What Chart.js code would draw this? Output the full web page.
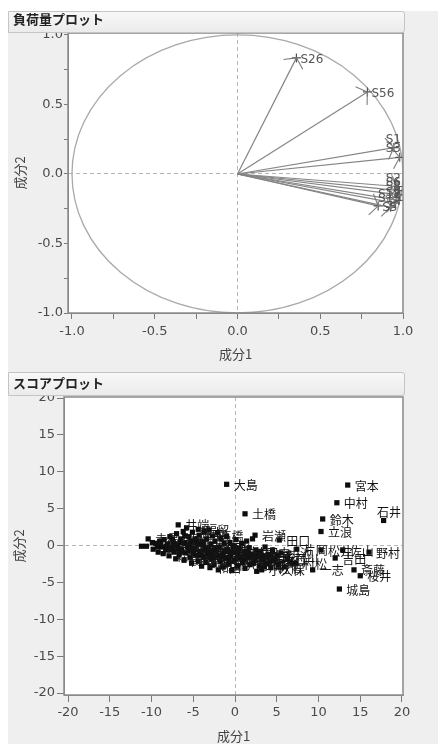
<!DOCTYPE html>
<html>
<head>
<meta charset="utf-8">
<script src="https://cdn.jsdelivr.net/npm/chart.js"></script>
<style>
  html, body { margin: 0; padding: 0; background: #fff; }
  body { width: 438px; height: 744px; position: relative; overflow: hidden; }
  #panel { position: absolute; left: 8px; top: 11px; right: 0; bottom: 0; background: #efefef; }
  .bar {
    position: absolute; left: 8px; width: 397px; box-sizing: border-box;
    border: 1px solid #c4c4c4; border-radius: 0 3px 3px 0;
    background: linear-gradient(#f8f8f8, #ebebeb);
    font: bold 13px "Noto Sans CJK JP"; color: #222; padding-left: 4px; z-index: 2;
  }
  #bar1 { top: 11px; height: 22px; line-height: 14px; }
  #bar2 { top: 372px; height: 24px; line-height: 20px; }
  canvas { position: absolute; left: 0; }
</style>
</head>
<body>
<div id="panel"></div>
<canvas id="c1" width="438" height="370" style="top:0"></canvas>
<canvas id="c2" width="438" height="372" style="top:372px"></canvas>
<div class="bar" id="bar1">負荷量プロット</div>
<div class="bar" id="bar2">スコアプロット</div>
<script>
// 負荷量プロット
const loadNames = ['S26', 'S56', 'S1', 'S3', 'S2', 'S6', 'S8', 'S9', 'S12', 'S15', 'S5'];
const loadX = [0.356, 0.785, 0.945, 0.98, 0.97, 0.975, 0.98, 0.975, 0.955, 0.925, 0.85];
const loadY = [0.835, 0.59, 0.19, 0.12, -0.09, -0.12, -0.15, -0.19, -0.21, -0.24, -0.23];
const loadTicks = [-1, -0.75, -0.5, -0.25, 0, 0.25, 0.5, 0.75, 1];

// スコアプロット: named outliers
const outNames = ['大島', '土橋', '宮本', '中村', '石井', '鈴木', '立浪', '野村', '片岡', '松井', '佐山',
  '吉田', '一志', '村松', '小久保', '斎藤', '桜井', '城島', '岩瀬', '田口', '田中', '赤星', '井端', '福留'];
const outX = [-1.0, 1.2, 13.5, 12.2, 17.8, 10.5, 10.3, 16.05, 7.4, 10.3, 12.9,
  12.0, 9.3, 7.3, 3.2, 14.25, 15.0, 12.5, 2.4, 5.3, 2.9, -10.4, -6.8, -4.4];
const outY = [8.3, 4.3, 8.2, 5.8, 3.4, 3.6, 1.9, -0.9, -0.5, -0.6, -0.6,
  -1.7, -3.3, -2.4, -3.3, -3.3, -4.1, -5.9, 1.4, 0.75, -1.0, 0.9, 2.8, 2.2];

// スコアプロット: main cluster
const clusterX = [-11.2, -10.6, -9.8, -9.5, -9.2, -9.0, -8.8, -8.6, -8.5, -8.3, -8.1, -7.9, -7.8, -7.6, -7.4, -7.3,
  -7.1, -7.0, -6.9, -6.7, -6.5, -6.4, -6.2, -6.1, -6.0, -5.9, -5.8, -5.7, -5.5, -5.4, -5.3, -5.2, -5.1,
  -4.9, -4.8, -4.7, -4.5, -4.4, -4.3, -4.2, -4.0, -3.9, -3.8, -3.7, -3.6, -3.5, -3.4, -3.3, -3.1,
  -3.0, -2.9, -2.8, -2.7, -2.6, -2.5, -2.4, -2.2, -2.1, -2.0, -1.9, -1.8, -1.7, -1.5, -1.4, -1.3, -1.1,
  -1.0, -0.9, -0.8, -0.6, -0.5, -0.4, -0.2, -0.1, 0.1, 0.2, 0.3, 0.5, 0.6, 0.8, 0.9,
  1.1, 1.2, 1.4, 1.5, 1.7, 1.8, 2.0, 2.1, 2.3, 2.5, 2.6, 2.8, 2.9,
  3.1, 3.5, 3.4, 3.6, 3.8, 4.0, 4.3, 4.5, 4.8, 5.2, 5.5, 5.9, 6.3, 6.8,
  -9.9, -9.3, -8.9, -8.2, -7.7, -7.5, -7.2, -6.8, -6.6, -6.3, -6.0, -5.6, -5.4, -5.0, -4.6, -4.1,
  -3.8, -3.2, -2.9, -2.3, -1.6, -1.2, -0.7, -0.3, 0.4, 1.0, 1.6, 2.2, 2.7, 3.3, 4.2, 5.0];
const clusterY = [-0.1, -0.1, -0.5, 0.3, -0.9, 0.6, -0.2, -1.1, 0.8, -0.6, 0.2, -1.4, 1.2, -0.3, 0.5, -0.9,
  -1.8, 1.6, 0.0, -1.2, 0.9, -0.5, 1.9, -2.0, 0.3, -1.0, 2.4, -0.2, 1.2, -1.6, 0.6, -2.4, 1.8,
  -0.4, 0.9, -1.3, 0.2, -2.1, 1.4, -0.8, -2.8, 0.5, -1.6, 1.9, -0.3, -2.3, 0.9, -1.1, 2.1,
  -3.0, 0.2, -1.8, 1.3, -0.7, -2.6, 0.6, -1.4, 1.7, -3.3, -0.2, -2.2, 0.9, -1.0, -2.9, 0.3, -1.7,
  1.2, -0.6, -2.5, 0.4, -1.3, -3.4, -0.1, -2.0, 0.8, -1.0, -2.8, -0.4, -1.7, 0.3, -2.3,
  -0.9, -3.1, 0.6, -1.6, -0.3, -2.6, -1.2, 0.9, -2.0, -0.6, -3.5, -1.5, -2.8,
  -0.8, -2.9, -1.9, -0.2, -2.5, -1.2, -3.0, -0.6, -1.8, -2.6, -1.0, -2.9, -1.7, -2.4,
  0.4, -0.2, 0.3, -0.1, -0.6, 0.9, 0.2, -0.4, 0.4, -0.9, 1.3, -0.7, 0.1, -1.0, 0.6, -1.3,
  0.2, -0.5, -1.2, -0.3, -1.5, -0.8, -1.9, -0.9, -1.4, -1.9, -1.1, -2.4, -1.0, -1.4, -2.2, -1.4];
const clusterNames = ['', '', '', '谷', '', '', '嶋', '', '', '李', '', '森野', '', '', '金本', '',
  '', '', '今岡', '', '', '矢野', '', '関本', '', '', '', '桧山', '', '浜中', '', '', '藤本',
  '', '荒木', '', '', '谷繁', '', '新井', '', '', '前田', '', '栗原', '', '', '東出', '',
  '和田', '', '', '高橋', '', '阿部', '', '二岡', '', '', '清水', '', '', '仁志', '', '', '村田',
  '', '', '内川', '', '吉村', '', '', '相川', '', '古木', '', '', '種田', '', '',
  '岩村', '', '', '宮出', '', '青木', '', '', '真中', '', '', '古田', '',
  '', '', '岩本', '', '宮内', '', '佐伯', '', '多村', '', '小池', '', '石川', '',
  '', '関川', '', '坪井', '', '沖原', '', '藤井', '', '片山', '', '平下', '', '上坂', '', '喜田',
  '', '葛西', '', '町田', '', '赤松', '', '林', '', '狩野', '', '野口', '', '井上', '', '森'];
const scoreTicks = [-20, -15, -10, -5, 0, 5, 10, 15, 20];

const tickFont = { family: 'DejaVu Sans', size: 13 };
const titleFont = { family: 'Noto Sans CJK JP', size: 13 };

function zeroGrid(len) {
  return {
    color: c => (c.tick && c.tick.value === 0) ? '#b5b5b5' : 'rgba(0,0,0,0)',
    tickColor: '#7a7a7a',
    tickLength: len
  };
}

const plotBack = {
  id: 'plotBack',
  beforeDraw(chart) {
    const a = chart.chartArea, ctx = chart.ctx;
    ctx.save();
    ctx.fillStyle = '#fff';
    ctx.fillRect(a.left, a.top, a.right - a.left, a.bottom - a.top);
    ctx.restore();
  },
  afterDraw(chart) {
    const a = chart.chartArea, ctx = chart.ctx;
    ctx.save();
    ctx.strokeStyle = '#8a8a8a';
    ctx.lineWidth = 1.5;
    ctx.strokeRect(a.left, a.top, a.right - a.left, a.bottom - a.top);
    ctx.restore();
  }
};

function placeLabel(ctx, area, text, px, py, dx, dy) {
  const w = ctx.measureText(text).width;
  let x = px + dx, y = py + dy;
  if (x + w > area.right - 1) { x = area.right - w - 2; y = py - 8; }
  ctx.fillText(text, x, y);
}

// 単位円と矢印
const loadDeco = {
  id: 'loadDeco',
  beforeDatasetsDraw(chart) {
    const { x, y } = chart.scales, ctx = chart.ctx, a = chart.chartArea;
    const cx = x.getPixelForValue(0), cy = y.getPixelForValue(0);
    const rx = x.getPixelForValue(1) - cx, ry = cy - y.getPixelForValue(1);
    ctx.save();
    ctx.beginPath();
    ctx.rect(a.left, a.top, a.right - a.left, a.bottom - a.top);
    ctx.clip();
    ctx.strokeStyle = '#a9a9a9';
    ctx.lineWidth = 1.3;
    ctx.beginPath();
    ctx.ellipse(cx, cy, rx, ry, 0, 0, Math.PI * 2);
    ctx.stroke();
    ctx.restore();
  },
  afterDatasetsDraw(chart) {
    const ctx = chart.ctx, a = chart.chartArea;
    ctx.save();
    ctx.beginPath();
    ctx.rect(a.left, a.top, a.right - a.left, a.bottom - a.top);
    ctx.clip();
    ctx.strokeStyle = '#7d7d7d';
    ctx.lineWidth = 1.1;
    ctx.font = '12px "DejaVu Sans"';
    ctx.fillStyle = '#555';
    ctx.textBaseline = 'middle';
    chart.data.datasets.forEach((ds, i) => {
      const pts = chart.getDatasetMeta(i).data;
      const p0 = pts[0], p1 = pts[1];
      const ang = Math.atan2(p1.y - p0.y, p1.x - p0.x) + Math.PI;
      [-0.98, 0.98].forEach(s => {
        ctx.beginPath();
        ctx.moveTo(p1.x, p1.y);
        ctx.lineTo(p1.x + 13 * Math.cos(ang + s), p1.y + 13 * Math.sin(ang + s));
        ctx.stroke();
      });
      placeLabel(ctx, a, ds.label, p1.x, p1.y, 4, 2);
    });
    ctx.restore();
  }
};

const scoreLabels = {
  id: 'scoreLabels',
  afterDatasetsDraw(chart) {
    const ctx = chart.ctx, a = chart.chartArea;
    ctx.save();
    ctx.beginPath();
    ctx.rect(a.left, a.top, a.right - a.left, a.bottom - a.top);
    ctx.clip();
    ctx.font = '12px "Noto Sans CJK JP"';
    ctx.fillStyle = '#141414';
    ctx.textBaseline = 'middle';
    chart.data.datasets.forEach((ds, i) => {
      chart.getDatasetMeta(i).data.forEach((p, j) => {
        const t = ds.names[j];
        if (t) placeLabel(ctx, a, t, p.x, p.y, 7, 1);
      });
    });
    ctx.restore();
  }
};

new Chart(document.getElementById('c1'), {
  type: 'scatter',
  data: {
    datasets: loadNames.map((n, i) => ({
      label: n,
      data: [{ x: 0, y: 0 }, { x: loadX[i], y: loadY[i] }],
      showLine: true,
      borderColor: '#858585',
      borderWidth: 1.2,
      pointRadius: [0, 4.5],
      pointHoverRadius: 0,
      pointStyle: 'cross',
      pointBorderColor: '#555',
      pointBorderWidth: 1.2
    }))
  },
  options: {
    responsive: false,
    animation: false,
    events: [],
    layout: { padding: { left: 0, top: 33, right: 35, bottom: 0 } },
    plugins: { legend: { display: false }, tooltip: { enabled: false } },
    scales: {
      x: {
        type: 'linear', min: -1.024, max: 1.0,
        afterBuildTicks: s => { s.ticks = loadTicks.map(v => ({ value: v })); },
        afterFit: s => { s.height = 57; },
        ticks: {
          font: tickFont, color: '#4a4a4a', padding: 5, maxRotation: 0, autoSkip: false,
          callback: v => Math.abs(v * 2 - Math.round(v * 2)) < 1e-9 ? v.toFixed(1) : ''
        },
        grid: zeroGrid(6),
        border: { color: '#888', dash: [4, 3] },
        title: { display: true, text: '成分1', font: titleFont, color: '#444', padding: { top: 0, bottom: 8 } }
      },
      y: {
        type: 'linear', min: -1.0, max: 1.014,
        afterBuildTicks: s => { s.ticks = loadTicks.map(v => ({ value: v })); },
        afterFit: s => { s.width = 68; },
        ticks: {
          font: tickFont, color: '#4a4a4a', padding: 1, autoSkip: false,
          callback: v => Math.abs(v * 2 - Math.round(v * 2)) < 1e-9 ? v.toFixed(1) : ''
        },
        grid: zeroGrid(4),
        border: { color: '#888', dash: [4, 3] },
        title: { display: true, text: '成分2', font: titleFont, color: '#444', padding: { top: 12, bottom: 0 } }
      }
    }
  },
  plugins: [plotBack, loadDeco]
});

const marker = {
  pointStyle: 'rect',
  pointRadius: 3.7,
  pointHoverRadius: 3.7,
  backgroundColor: '#0d0d0d',
  borderWidth: 0
};

new Chart(document.getElementById('c2'), {
  type: 'scatter',
  data: {
    datasets: [
      Object.assign({ label: 'cluster', names: clusterNames, data: clusterX.map((v, i) => ({ x: v, y: clusterY[i] })) }, marker),
      Object.assign({ label: 'named', names: outNames, data: outX.map((v, i) => ({ x: v, y: outY[i] })) }, marker)
    ]
  },
  options: {
    responsive: false,
    animation: false,
    events: [],
    layout: { padding: { left: 0, top: 25, right: 35, bottom: 0 } },
    plugins: { legend: { display: false }, tooltip: { enabled: false } },
    scales: {
      x: {
        type: 'linear', min: -20.48, max: 20.12,
        afterBuildTicks: s => { s.ticks = scoreTicks.map(v => ({ value: v })); },
        afterFit: s => { s.height = 49; },
        ticks: { font: tickFont, color: '#4a4a4a', padding: 3, maxRotation: 0, autoSkip: false },
        grid: zeroGrid(7),
        border: { color: '#888', dash: [4, 3] },
        title: { display: true, text: '成分1', font: titleFont, color: '#444', padding: { top: 0, bottom: 0 } }
      },
      y: {
        type: 'linear', min: -20.27, max: 20.14,
        afterBuildTicks: s => { s.ticks = scoreTicks.map(v => ({ value: v })); },
        afterFit: s => { s.width = 64; },
        ticks: { font: tickFont, color: '#4a4a4a', padding: 2, autoSkip: false },
        grid: zeroGrid(7),
        border: { color: '#888', dash: [4, 3] },
        title: { display: true, text: '成分2', font: titleFont, color: '#444', padding: { top: 11, bottom: 0 } }
      }
    }
  },
  plugins: [plotBack, scoreLabels]
});
</script>
</body>
</html>
